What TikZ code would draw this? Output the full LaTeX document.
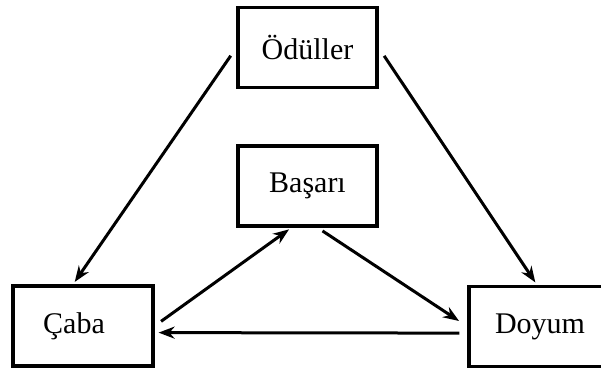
\documentclass[tikz,border=0pt]{standalone}
\usepackage{fontspec}
\setmainfont{Liberation Serif}
\usepackage{tikz}
\usetikzlibrary{
	arrows.meta
}

\begin{document}
\begin{tikzpicture}[x=0.5pt,y=-0.5pt,
		font=\fontsize{15}{18}\selectfont,
		box/.style={draw=black,line width=1.6pt,minimum width=69.5pt,minimum height=40pt,inner sep=0pt},
		arr/.style={line width=1.5pt,-{Stealth[length=8pt,width=6pt]}}]
		\useasboundingbox (0,0) rectangle (601,372);

		\node[box] (oduller) at (307.5,47.5) {\"Od\"uller};
		\node[box] (basari) at (307.5,186) {Ba\c{s}ar\i};
		\node[box,minimum width=70pt] (caba) at (83,326) {\hspace{-9pt}\c{C}aba};
		\node[box,minimum width=71pt] (doyum) at (540,326.5) {Doyum};

		\draw[arr,shorten <=5pt,shorten >=1.5pt] (oduller.west) -- ([xshift=-5pt]caba.north);
		\draw[arr,shorten <=5pt,shorten >=1.5pt] (oduller.east) -- ([xshift=-1.5pt]doyum.north);
		\draw[arr,shorten <=4pt,shorten >=1.5pt] (caba.east) -- ([xshift=-8pt]basari.south);
		\draw[arr,shorten <=3pt,shorten >=5pt] ([xshift=5pt]basari.south) -- (doyum.west);
		\draw[arr,shorten <=4pt,shorten >=2pt] ([yshift=-3.3pt]doyum.west) -- ([yshift=-3.3pt]caba.east);
	\end{tikzpicture}
\end{document}
